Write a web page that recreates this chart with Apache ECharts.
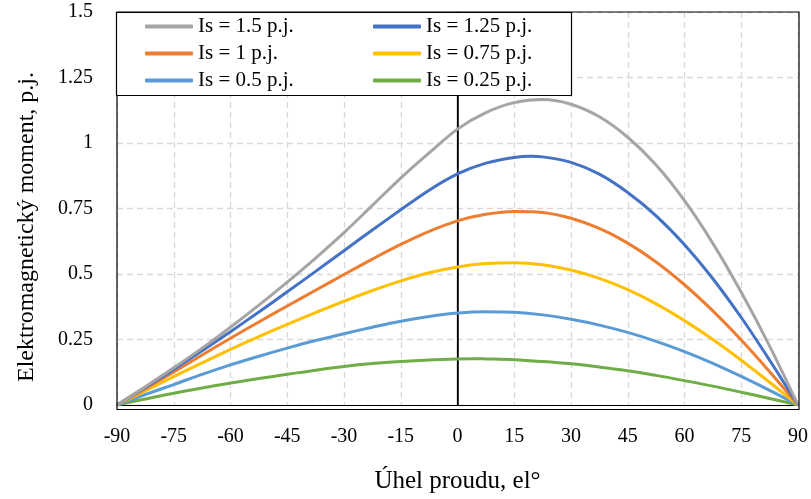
<!DOCTYPE html>
<html>
<head>
<meta charset="utf-8">
<script src="https://cdn.jsdelivr.net/npm/echarts@6/dist/echarts.min.js"></script>
<style>html,body{margin:0;padding:0;background:#fff;}#c{width:811px;height:499px;}</style>
</head>
<body>
<div id="c"></div>
<script>
var angles = [-90,-82.5,-75,-67.5,-60,-52.5,-45,-37.5,-30,-22.5,-15,-7.5,0,7.5,15,22.5,30,37.5,45,52.5,60,67.5,75,82.5,90];
var is150 = [0,0.070,0.142,0.217,0.297,0.381,0.469,0.561,0.658,0.762,0.866,0.962,1.053,1.116,1.154,1.166,1.148,1.100,1.022,0.916,0.780,0.617,0.430,0.225,0];
var is125 = [0,0.067,0.136,0.207,0.280,0.355,0.432,0.510,0.589,0.668,0.745,0.820,0.882,0.923,0.945,0.947,0.926,0.881,0.811,0.722,0.612,0.482,0.334,0.171,0];
var is100 = [0,0.062,0.126,0.191,0.255,0.317,0.378,0.438,0.498,0.557,0.613,0.663,0.703,0.728,0.739,0.735,0.713,0.674,0.618,0.546,0.459,0.359,0.248,0.127,0];
var is075 = [0,0.054,0.108,0.161,0.212,0.261,0.308,0.353,0.396,0.437,0.474,0.505,0.527,0.540,0.543,0.535,0.515,0.483,0.440,0.386,0.322,0.250,0.171,0.087,0];
var is050 = [0,0.040,0.078,0.117,0.153,0.186,0.217,0.246,0.272,0.297,0.320,0.338,0.351,0.356,0.354,0.344,0.327,0.305,0.277,0.243,0.204,0.159,0.109,0.056,0];
var is025 = [0,0.023,0.045,0.065,0.084,0.101,0.117,0.133,0.147,0.158,0.166,0.172,0.176,0.176,0.173,0.166,0.157,0.145,0.131,0.113,0.093,0.072,0.049,0.025,0];
var peakAngles = [null, 19.5, null, null, null, 3.75];
var peakValues = [null, 0.949, null, null, null, 0.177];
var seriesNames = ['Is = 1.5 p.j.','Is = 1.25 p.j.','Is = 1 p.j.','Is = 0.75 p.j.','Is = 0.5 p.j.','Is = 0.25 p.j.'];
var seriesValues = [is150, is125, is100, is075, is050, is025];
var colors = ['#A5A5A5','#4472C4','#ED7D31','#FFC000','#5B9BD5','#70AD47'];
var xTitle = 'Úhel proudu, el°';
var yTitle = 'Elektromagnetický moment, p.j.';

var FONT = '"Liberation Serif", "Times New Roman", serif';

function buildData(k){
  var d = angles.map(function(a,i){ return [a, seriesValues[k][i]]; });
  if (peakAngles[k] !== null) d.push([peakAngles[k], peakValues[k]]);
  d.sort(function(p,q){ return p[0] - q[0]; });
  return d;
}

var series = seriesNames.map(function(n,i){
  var s = {
    name: n, type: 'line', data: buildData(i),
    smooth: 0.35, symbol: 'none', showSymbol: false,
    lineStyle: { color: colors[i], width: 3 },
    itemStyle: { color: colors[i] },
    z: 10 - i
  };
  if (i === 0) {
    s.markLine = {
      silent: true, symbol: 'none', label: { show: false },
      lineStyle: { color: '#000', width: 1.5, type: 'solid' },
      data: [{ xAxis: 0 }]
    };
  }
  return s;
});

var legendCommon = {
  orient: 'vertical', icon: 'roundRect', itemWidth: 48, itemHeight: 4,
  itemGap: 6, padding: 0, z: 60,
  textStyle: { fontFamily: FONT, fontSize: 21, color: '#000', lineHeight: 21 }
};

var chart = echarts.init(document.getElementById('c'), null, { renderer: 'canvas' });
chart.setOption({
  animation: false,
  backgroundColor: '#fff',
  color: colors,
  grid: { left: 117, right: 12, top: 12, bottom: 90, show: false },
  xAxis: {
    type: 'value', min: -90, max: 90, interval: 15,
    name: xTitle, nameLocation: 'middle', nameGap: 64,
    nameTextStyle: { fontFamily: FONT, fontSize: 25, color: '#000' },
    axisLine: { show: true, lineStyle: { color: '#000', width: 1.2 } },
    axisTick: { show: false },
    axisLabel: { fontFamily: FONT, fontSize: 20, color: '#000', margin: 22 },
    splitLine: { show: true, lineStyle: { color: '#D9D9D9', width: 1.3, type: [6,4] } }
  },
  yAxis: {
    type: 'value', min: 0, max: 1.5, interval: 0.25,
    axisLine: { show: true, lineStyle: { color: '#000', width: 1.2 } },
    axisTick: { show: false },
    axisLabel: { fontFamily: FONT, fontSize: 20, color: '#000', margin: 24 },
    splitLine: { show: true, lineStyle: { color: '#D9D9D9', width: 1.3, type: [6,4] } }
  },
  legend: [
    Object.assign({}, legendCommon, { left: 145, top: 16, data: [seriesNames[0], seriesNames[2], seriesNames[4]] }),
    Object.assign({}, legendCommon, { left: 373, top: 16, data: [seriesNames[1], seriesNames[3], seriesNames[5]] })
  ],
  graphic: [
    { type: 'rect', z: 40, silent: true, shape: { x: 117, y: 12, width: 682, height: 397.5 }, style: { fill: 'none', stroke: '#000', lineWidth: 1.2 } },
    { type: 'rect', z: 50, shape: { x: 116.5, y: 12.5, width: 455, height: 83 }, style: { fill: '#fff', stroke: '#000', lineWidth: 1.2 } },
    { type: 'text', z: 50, x: 27, y: 227, rotation: Math.PI / 2,
      style: { text: yTitle, fontFamily: FONT, fontSize: 24, fill: '#000', textAlign: 'center', textVerticalAlign: 'middle' } }
  ],
  series: series
});
</script>
</body>
</html>
